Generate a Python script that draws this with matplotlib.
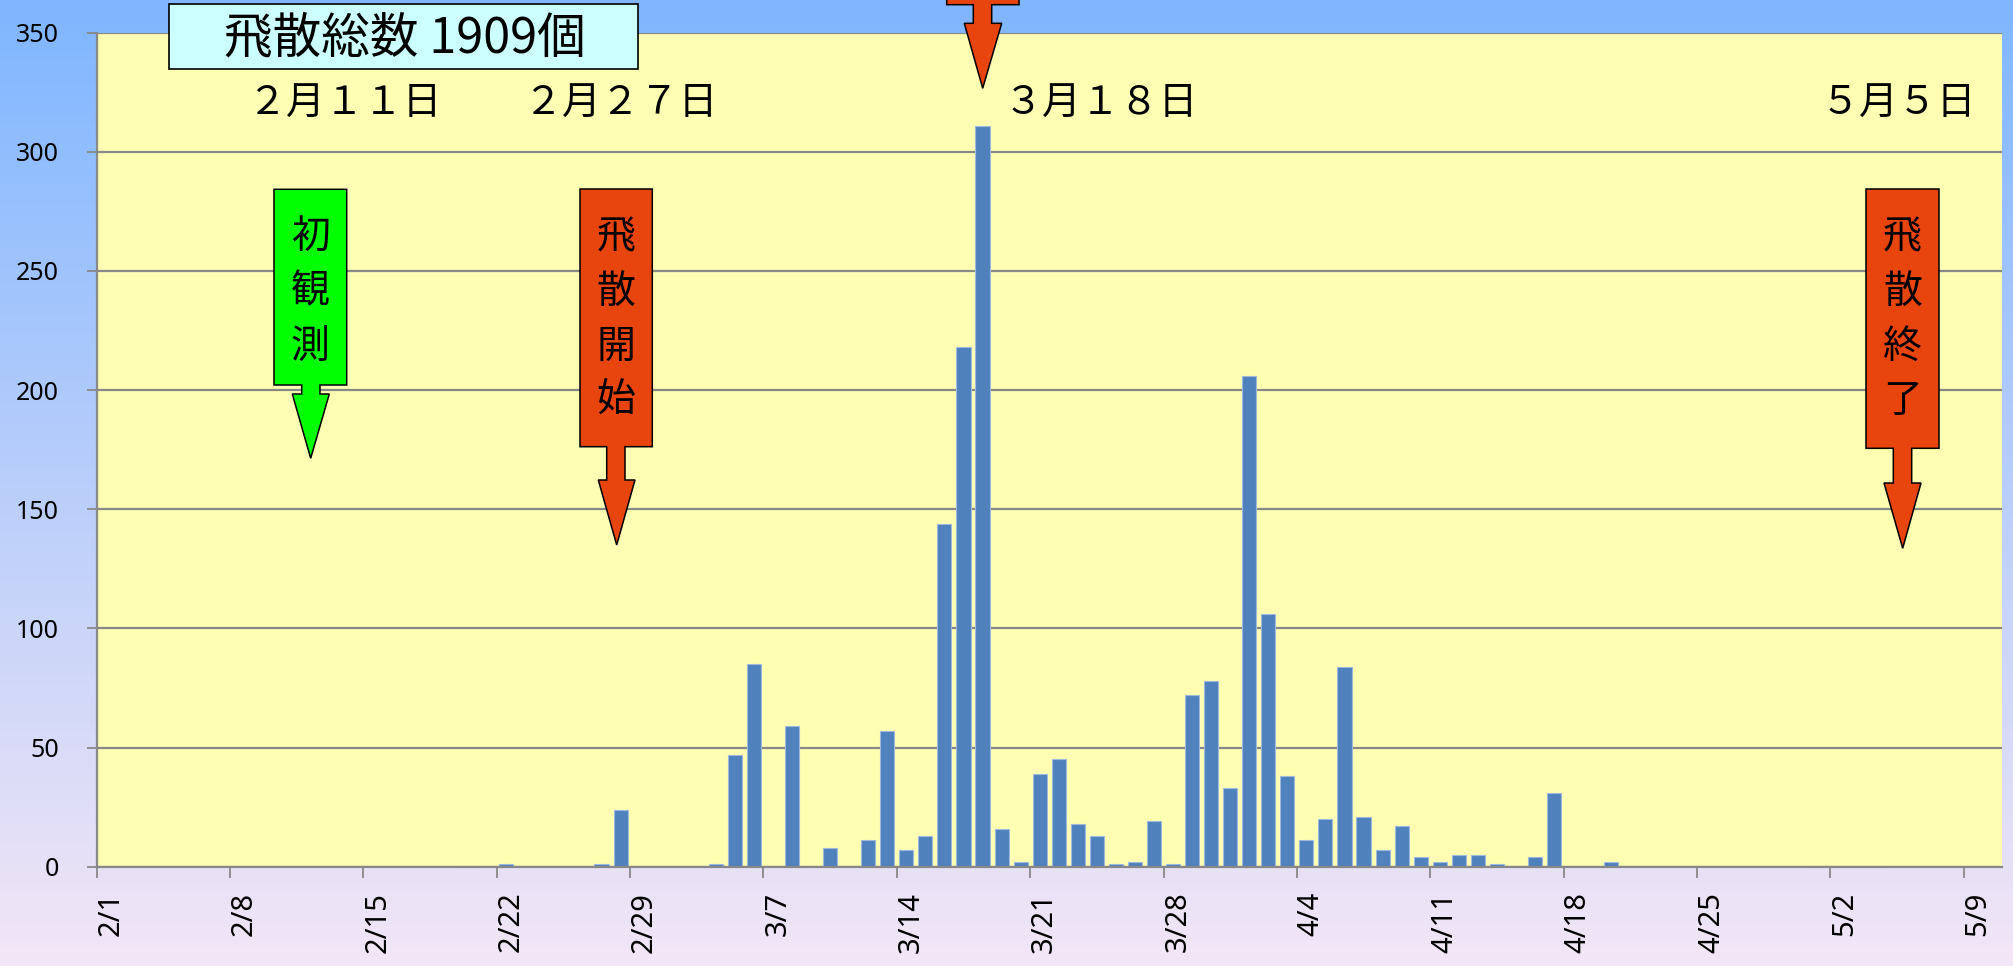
import numpy as np
import pandas as pd
import matplotlib
matplotlib.use("Agg")
import matplotlib.pyplot as plt
from matplotlib.patches import Polygon, Rectangle
from matplotlib.transforms import Affine2D

plt.rcParams['font.family'] = ['Noto Sans', 'Noto Sans CJK JP', 'DejaVu Sans']

# ---------------- data ----------------
season_start = "2012-02-01"
n_days = 100
dates = ["2/20", "2/22", "2/27", "2/28", "3/4", "3/5", "3/6", "3/8", "3/10", "3/12",
         "3/13", "3/14", "3/15", "3/16", "3/17", "3/18", "3/19", "3/20", "3/21", "3/22",
         "3/23", "3/24", "3/25", "3/26", "3/27", "3/28", "3/29", "3/30", "3/31", "4/1",
         "4/2", "4/3", "4/4", "4/5", "4/6", "4/7", "4/8", "4/9", "4/10", "4/11",
         "4/12", "4/13", "4/14", "4/15", "4/16", "4/17", "4/20", "5/1", "5/2", "5/3", "5/4"]
values = [0.5, 1, 1, 24, 1, 47, 85, 59, 8, 11,
          57, 7, 13, 144, 218, 311, 16, 2, 39, 45,
          18, 13, 1, 2, 19, 1, 72, 78, 33, 206,
          106, 38, 11, 20, 84, 21, 7, 17, 4, 2,
          5, 5, 1, 0.5, 4, 31, 2, 0.4, 0.4, 0.3, 0.3]
tick_labels = ["2/1", "2/8", "2/15", "2/22", "2/29", "3/7", "3/14", "3/21",
               "3/28", "4/4", "4/11", "4/18", "4/25", "5/2", "5/9"]
y_ticks = [0, 50, 100, 150, 200, 250, 300, 350]

title_text = "飛散総数 1909個"
date_notes = ["２月１１日", "２月２７日", "３月１８日", "５月５日"]
arrow_texts = ["初観測", "飛散開始", "飛散終了"]

# ---------------- layout ----------------
W_PX, H_PX = 2013, 966
fig = plt.figure(figsize=(W_PX / 100, H_PX / 100), dpi=100)

# background gradient
bg = fig.add_axes([0, 0, 1, 1], zorder=0)
bg.axis("off")
top_c = np.array([127, 182, 255]) / 255
bot_c = np.array([243, 230, 246]) / 255
t = np.linspace(0, 1, 256)[:, None]
grad = top_c[None, :] * (1 - t) + bot_c[None, :] * t
bg.imshow(grad[:, None, :].repeat(2, axis=1), aspect="auto", extent=[0, 1, 0, 1])
bg.set_xlim(0, 1)
bg.set_ylim(0, 1)

left_px, right_px, top_px, bot_px = 96.7, 2001.7, 32.7, 866.7
ax = fig.add_axes([left_px / W_PX, 1 - bot_px / H_PX,
                   (right_px - left_px) / W_PX, (bot_px - top_px) / H_PX], zorder=1)
ax.set_facecolor("#FFFFB4")

days = pd.date_range(season_start, periods=n_days)
idx = {f"{d.month}/{d.day}": i for i, d in enumerate(days)}
xs = [idx[d] + 0.5 for d in dates]

ax.bar(xs, values, width=0.74, color="#4F81BD", edgecolor="#9DB9DD",
       linewidth=0.8, zorder=3)

ax.set_xlim(0, n_days)
ax.set_ylim(0, 350)
ax.set_yticks(y_ticks)
ax.set_yticklabels([str(v) for v in y_ticks], fontsize=18)
ax.set_xticks([idx[t] for t in tick_labels])
ax.set_xticklabels(tick_labels, rotation=90, fontsize=21, ha="left")
ax.tick_params(axis="y", length=7, width=1.3, color="#888888", pad=20)
ax.tick_params(axis="x", length=8, width=1.3, color="#888888", pad=10)
ax.grid(axis="y", color="#888888", linewidth=1.6, zorder=1)
ax.set_axisbelow(True)
for s in ["top", "right"]:
    ax.spines[s].set_visible(False)
for s in ["left", "bottom"]:
    ax.spines[s].set_color("#888888")
    ax.spines[s].set_linewidth(1.6)
    ax.spines[s].set_zorder(4)

# ---------------- annotations (pixel coords from top-left) ----------------
T = Affine2D().scale(1, -1).translate(0, H_PX)

# total box
fig.add_artist(Rectangle((169, 4), 469, 65, transform=T, facecolor="#CCFFFF",
                         edgecolor="black", linewidth=1.2, zorder=5))
fig.add_artist(plt.Text(405, 38, title_text, transform=T, fontsize=35,
                        family=["Noto Sans CJK JP"], ha="center", va="center", zorder=6))

# date notes
note_x = [344.5, 620, 1101, 1898]
for txt, x in zip(date_notes, note_x):
    fig.add_artist(plt.Text(x, 104, txt, transform=T, fontsize=28,
                            family=["Noto Sans CJK JP"], ha="center", va="center", zorder=6))

def arrow(box, stem, head, tip, color):
    x0, x1, y0, y1 = box
    sx0, sx1, ys = stem
    hx0, hx1 = head
    tx, ty = tip
    pts = [(x0, y0), (x1, y0), (x1, y1), (sx1, y1), (sx1, ys), (hx1, ys), (tx, ty),
           (hx0, ys), (sx0, ys), (sx0, y1), (x0, y1)]
    fig.add_artist(Polygon(pts, closed=True, transform=T, facecolor=color,
                           edgecolor="black", linewidth=1.1, zorder=5))

arrow((274, 346.7, 189.3, 385), (301.7, 320, 394), (292.3, 329.3), (310.7, 458.3), "#00FF00")
arrow((580, 652.3, 189, 446.7), (606.7, 625, 480), (598.3, 635), (616.7, 545), "#E8440D")
arrow((1866, 1939, 189, 448.3), (1893.3, 1911.7, 483), (1884, 1921), (1902.7, 548.3), "#E8440D")
arrow((946.7, 1019, -60, 4.7), (973.3, 991.7, 23.3), (964.3, 1001.7), (982.7, 88.3), "#E8440D")

for txt, cx in zip(arrow_texts, [310.5, 616.2, 1902.5]):
    for k, ch in enumerate(txt):
        fig.add_artist(plt.Text(cx, 237 + 54.7 * k, ch, transform=T, fontsize=28,
                                family=["Noto Sans CJK JP"], ha="center", va="center",
                                zorder=6))

fig.savefig("out.png", dpi=100)
